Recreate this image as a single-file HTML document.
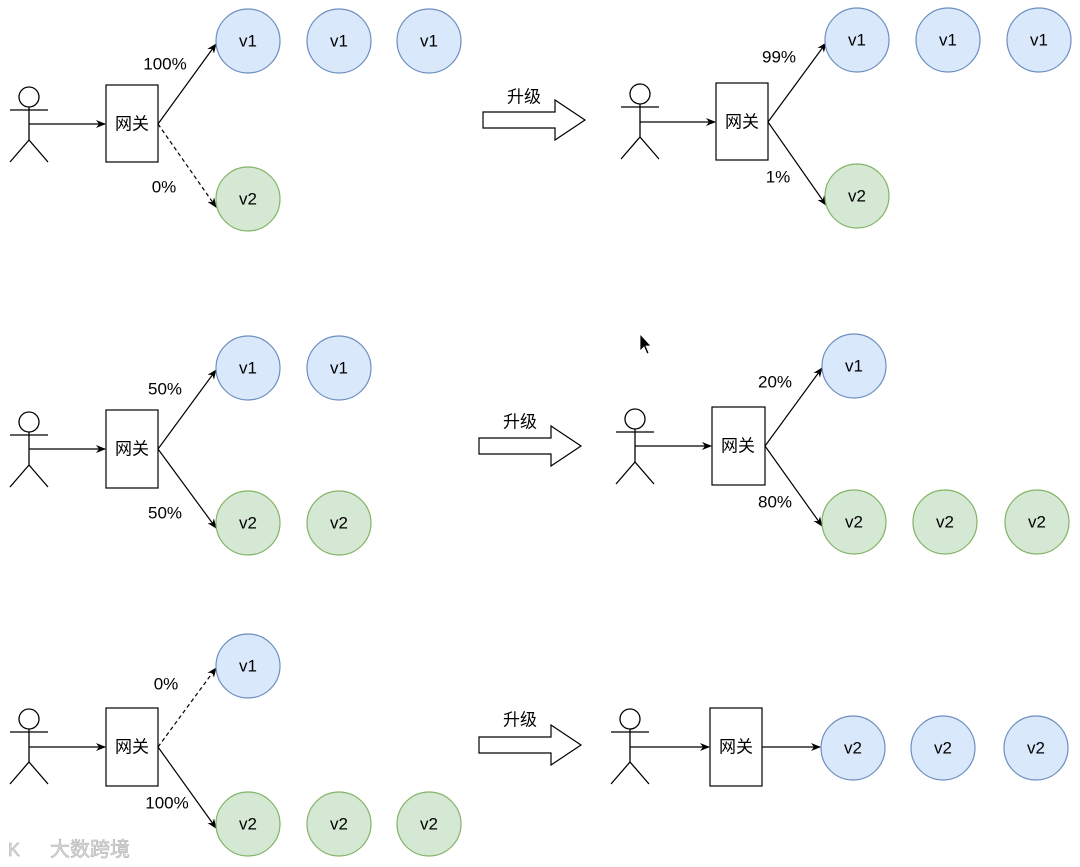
<!DOCTYPE html>
<html><head><meta charset="utf-8"><style>
html,body{margin:0;padding:0;background:#fff;width:1080px;height:867px;overflow:hidden}
text{font-family:"Liberation Sans","Noto Sans CJK SC",sans-serif;font-size:17px;fill:#000}
</style></head><body>
<svg width="1080" height="867" viewBox="0 0 1080 867" xmlns="http://www.w3.org/2000/svg">
<defs>
<marker id="a" markerWidth="10" markerHeight="8" refX="9" refY="4" orient="auto" markerUnits="userSpaceOnUse"><path d="M0,0 L10,4 L0,8 L3,4 Z" fill="#000"/></marker>
<g id="p" fill="none" stroke="#000" stroke-width="1.3"><circle cx="0" cy="0" r="10"/><path d="M0,10 V43 M-19,13 H19 M0,43 L-19,65 M0,43 L19,65"/></g>
<g id="h" ><path d="M0,-8 H72 V-20 L102,0 L72,20 V8 H0 Z" fill="#fff" stroke="#000" stroke-width="1.2"/></g>
</defs>
<g stroke="#000" stroke-width="1.2" fill="none">
<rect x="106" y="85" width="52" height="77" fill="#fff"/>
<path d="M29,124 H105" marker-end="url(#a)"/>
<path d="M158,124 L216,44" marker-end="url(#a)"/>
<path d="M158,124 L216,207" stroke-dasharray="4,3" marker-end="url(#a)"/>
<rect x="716" y="83" width="52" height="77" fill="#fff"/>
<path d="M640,122 H715" marker-end="url(#a)"/>
<path d="M768,122 L826,43" marker-end="url(#a)"/>
<path d="M768,122 L826,205" marker-end="url(#a)"/>
<rect x="106" y="410" width="52" height="78" fill="#fff"/>
<path d="M29,449 H105" marker-end="url(#a)"/>
<path d="M158,449 L216,370" marker-end="url(#a)"/>
<path d="M158,449 L216,528" marker-end="url(#a)"/>
<rect x="712" y="407" width="53" height="78" fill="#fff"/>
<path d="M635,446 H711" marker-end="url(#a)"/>
<path d="M765,446 L822,368" marker-end="url(#a)"/>
<path d="M765,446 L822,526" marker-end="url(#a)"/>
<rect x="106" y="708" width="52" height="78" fill="#fff"/>
<path d="M29,747 H105" marker-end="url(#a)"/>
<path d="M158,747 L216,668" stroke-dasharray="4,3" marker-end="url(#a)"/>
<path d="M158,747 L216,828" marker-end="url(#a)"/>
<rect x="710" y="708" width="52" height="78" fill="#fff"/>
<path d="M630,747 H709" marker-end="url(#a)"/>
<path d="M762,747 H820" marker-end="url(#a)"/>
</g>
<use href="#p" x="29" y="97"/><use href="#p" x="640" y="94"/>
<use href="#p" x="29" y="422"/><use href="#p" x="635" y="419"/>
<use href="#p" x="29" y="719"/><use href="#p" x="630" y="719"/>
<use href="#h" x="483" y="120"/><use href="#h" x="479" y="446"/><use href="#h" x="479" y="745"/>
<g stroke-width="1.2">
<g fill="#dae8fc" stroke="#6c8ebf">
<circle cx="248" cy="41" r="32"/><circle cx="339" cy="41" r="32"/><circle cx="429" cy="41" r="32"/>
<circle cx="857" cy="40" r="32"/><circle cx="948" cy="40" r="32"/><circle cx="1039" cy="40" r="32"/>
<circle cx="248" cy="368" r="32"/><circle cx="339" cy="368" r="32"/>
<circle cx="854" cy="366" r="32"/>
<circle cx="248" cy="666" r="32"/>
<circle cx="853" cy="748" r="32"/><circle cx="943" cy="748" r="32"/><circle cx="1036" cy="748" r="32"/>
</g>
<g fill="#d5e8d4" stroke="#82b366">
<circle cx="248" cy="199" r="32"/>
<circle cx="857" cy="196" r="32"/>
<circle cx="248" cy="523" r="32"/><circle cx="339" cy="523" r="32"/>
<circle cx="854" cy="522" r="32"/><circle cx="945" cy="522" r="32"/><circle cx="1037" cy="522" r="32"/>
<circle cx="248" cy="824" r="32"/><circle cx="339" cy="824" r="32"/><circle cx="429" cy="824" r="32"/>
</g>
</g>
<g text-anchor="middle" dominant-baseline="central">
<text x="132" y="124">网关</text><text x="742" y="122">网关</text>
<text x="132" y="449">网关</text><text x="738" y="446">网关</text>
<text x="132" y="747">网关</text><text x="736" y="747">网关</text>
<text x="248" y="41">v1</text><text x="339" y="41">v1</text><text x="429" y="41">v1</text>
<text x="857" y="40">v1</text><text x="948" y="40">v1</text><text x="1039" y="40">v1</text>
<text x="248" y="368">v1</text><text x="339" y="368">v1</text><text x="854" y="366">v1</text>
<text x="248" y="666">v1</text>
<text x="248" y="199">v2</text><text x="857" y="196">v2</text>
<text x="248" y="523">v2</text><text x="339" y="523">v2</text>
<text x="854" y="522">v2</text><text x="945" y="522">v2</text><text x="1037" y="522">v2</text>
<text x="248" y="824">v2</text><text x="339" y="824">v2</text><text x="429" y="824">v2</text>
<text x="853" y="748">v2</text><text x="943" y="748">v2</text><text x="1036" y="748">v2</text>
<text x="165" y="64">100%</text><text x="164" y="187">0%</text>
<text x="779" y="57">99%</text><text x="778" y="177">1%</text>
<text x="165" y="389">50%</text><text x="165" y="513">50%</text>
<text x="775" y="382">20%</text><text x="775" y="502">80%</text>
<text x="166" y="684">0%</text><text x="167" y="803">100%</text>
<text x="524" y="97">升级</text><text x="520" y="422">升级</text><text x="520" y="720">升级</text>
</g>
<path d="M640,334 L640,351 L644,347 L647,354 L649,353 L646,346 L651,346 Z" fill="#000" stroke="#fff" stroke-width="0.8"/>
<text x="50" y="856" style="font-size:20px;fill:#ddd;stroke:#aaa;stroke-width:0.5">大数跨境</text>
<text x="8" y="856" style="font-size:18px;fill:#ddd;stroke:#aaa;stroke-width:0.5">K</text>
</svg>
</body></html>
